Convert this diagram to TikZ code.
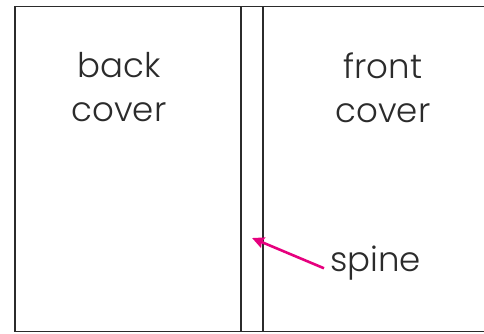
\documentclass[tikz,border=0pt]{standalone}
\usepackage{fontspec}
\setmainfont{Poppins}[UprightFont={* Light}]
\usetikzlibrary{arrows.meta}
\definecolor{inkgray}{HTML}{2B2B2B}
\definecolor{pointer}{HTML}{E6007E}
\tikzset{
    coverlabel/.style={align=center, text=inkgray, inner sep=0pt,
        font=\fontsize{34}{44}\selectfont},
    edgeline/.style={draw=inkgray, line width=1.6pt}
}
\begin{document}
\begin{tikzpicture}[x=1pt, y=1pt]
    \useasboundingbox (0, 0) rectangle (484, 333);
    
    % outline of the cover (runs off to the right)
    \draw[edgeline] (15, 1.5) rectangle (500, 326.5);
    
    % spine lines
    \coordinate (spinetopl) at (240.7, 326.5);
    \coordinate (spinebotl) at (240.7, 1.5);
    \coordinate (spinetopr) at (262.7, 326.5);
    \coordinate (spinebotr) at (262.7, 1.5);
    \draw[edgeline] (spinetopl) -- (spinebotl);
    \draw[edgeline] (spinetopr) -- (spinebotr);
    
    % labels for the two covers
    \node[coverlabel] (backcover) at (119, 245.5) {back\\cover};
    \node[coverlabel] (frontcover) at (383, 245.5) {front\\cover};
    
    % spine label and pointer
    \node[coverlabel, anchor=base west, outer xsep=6pt] (spinelabel) at (324, 62) {spine};
    \coordinate (spinetip) at (252, 95);
    \draw[pointer, line width=2.6pt, -{Stealth[length=12pt, width=11pt, inset=1.5pt]}]
        (spinelabel.mid west) -- (spinetip);
\end{tikzpicture}
\end{document}
